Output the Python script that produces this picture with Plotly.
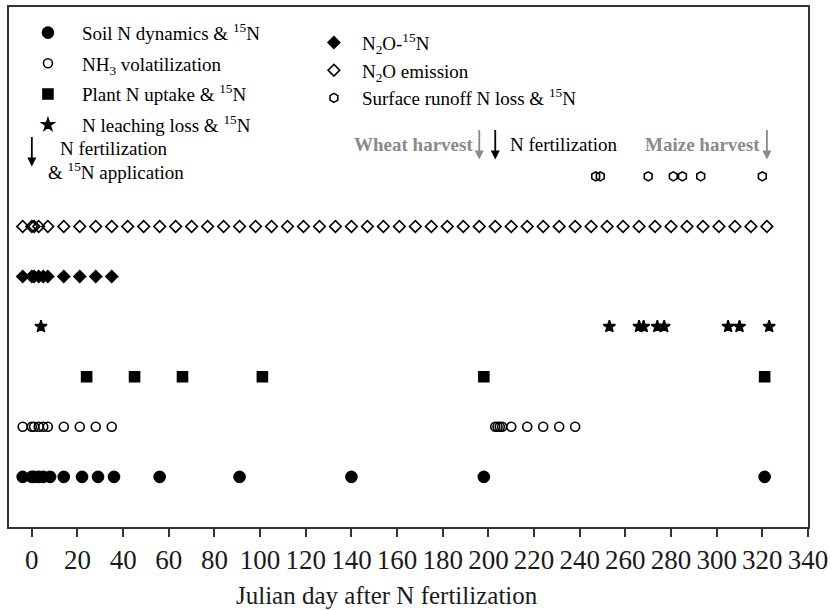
import plotly.graph_objects as go

# Sampling days (Julian day after N fertilization) for each measurement
soil_days = [-4, 0, 1, 3, 5, 8, 14, 22, 29, 36, 56, 91, 140, 198, 321]
nh3_days = [-4, 0, 1, 3, 5, 7, 14, 21, 28, 35,
            203, 204, 205, 206, 210, 217, 224, 231, 238]
plant_days = [24, 45, 66, 101, 198, 321]
leach_days = [4, 253, 266, 268, 274, 277, 305, 310, 323]
n2o15_days = [-4, 0, 1, 3, 5, 7, 14, 21, 28, 35]
n2o_days = [-4, 0, 1, 3, 7, 14, 21, 28, 35, 42, 49, 56, 63, 70, 77, 84, 91,
            98, 105, 112, 119, 126, 133, 140, 147, 154, 161, 168, 175, 182,
            189, 196, 203, 210, 217, 224, 231, 238, 245, 252, 259, 266, 273,
            280, 287, 294, 301, 308, 315, 322]
runoff_days = [247, 249, 270, 281, 285, 293, 320]

# Rows (bottom to top) and field events
rows = ["soil", "nh3", "plant", "leach", "n2o15", "n2o", "runoff"]
fert_day = 0
wheat_harvest_day = 196
second_fert_day = 203
maize_harvest_day = 322
x_ticks = [0, 20, 40, 60, 80, 100, 120, 140, 160, 180, 200, 220, 240, 260,
           280, 300, 320, 340]

FONT = "Liberation Serif, Times New Roman, serif"
GRAY = "#8a8a8a"

series = [
    # days, row, name, symbol, size, legend
    (soil_days, "soil", "Soil N dynamics &amp; <sup>15</sup>N", "circle", 11, "legend"),
    (nh3_days, "nh3", "NH<sub>3</sub> volatilization", "circle-open", 9, "legend"),
    (plant_days, "plant", "Plant N uptake &amp; <sup>15</sup>N", "square", 10, "legend"),
    (leach_days, "leach", "N leaching loss &amp; <sup>15</sup>N", "star", 9, "legend"),
    (n2o15_days, "n2o15", "N<sub>2</sub>O-<sup>15</sup>N", "diamond", 9, "legend2"),
    (n2o_days, "n2o", "N<sub>2</sub>O emission", "diamond-open", 9, "legend2"),
    (runoff_days, "runoff", "Surface runoff N loss &amp; <sup>15</sup>N", "hexagon-open", 9, "legend2"),
]

fig = go.Figure()
for days, row, name, symbol, size, leg in series:
    fig.add_trace(go.Scatter(
        x=days, y=[row] * len(days), mode="markers", name=name,
        legend=leg, legendgroup=row,
        marker=dict(symbol=symbol, size=size, color="black",
                    line=dict(color="black", width=1.6)),
    ))

annotations = []
# Arrows marking the field operations
for day, color in [(fert_day, "black"), (wheat_harvest_day, GRAY),
                   (second_fert_day, "black"), (maize_harvest_day, GRAY)]:
    tip = 0.6935 if day == fert_day else 0.7069
    annotations.append(dict(
        x=day, y=tip, xref="x", yref="paper", text="", showarrow=True,
        ax=0, ay=-31, arrowhead=2, arrowsize=1, arrowwidth=1.8,
        arrowcolor=color))

annotations += [
    dict(x=0.061, y=0.728, xref="paper", yref="paper", text="N fertilization",
         xanchor="left", yanchor="middle", showarrow=False,
         font=dict(family=FONT, size=19, color="black")),
    dict(x=0.046, y=0.684, xref="paper", yref="paper",
         text="&amp; <sup>15</sup>N application",
         xanchor="left", yanchor="middle", showarrow=False,
         font=dict(family=FONT, size=19, color="black")),
    dict(x=0.5836, y=0.7356, xref="paper", yref="paper", text="<b>Wheat harvest</b>",
         xanchor="right", yanchor="middle", showarrow=False,
         font=dict(family=FONT, size=19, color=GRAY)),
    dict(x=0.625, y=0.7356, xref="paper", yref="paper", text="N fertilization",
         xanchor="left", yanchor="middle", showarrow=False,
         font=dict(family=FONT, size=19, color="black")),
    dict(x=0.9427, y=0.7356, xref="paper", yref="paper", text="<b>Maize harvest</b>",
         xanchor="right", yanchor="middle", showarrow=False,
         font=dict(family=FONT, size=19, color=GRAY)),
    dict(x=0.4726, y=-0.1322, xref="paper", yref="paper",
         text="Julian day after N fertilization",
         xanchor="center", yanchor="middle", showarrow=False,
         font=dict(family=FONT, size=25, color="#1a1a1a")),
]

fig.update_layout(
    width=833, height=610,
    margin=dict(l=9, r=22, t=5, b=83),
    paper_bgcolor="white", plot_bgcolor="white",
    font=dict(family=FONT, size=19, color="black"),
    showlegend=True,
    legend=dict(x=0.0062, y=0.987, xanchor="left", yanchor="top",
                bgcolor="rgba(0,0,0,0)", borderwidth=0, tracegroupgap=3,
                itemwidth=58,
                font=dict(family=FONT, size=19, color="black")),
    legend2=dict(x=0.3716, y=0.968, xanchor="left", yanchor="top",
                 bgcolor="rgba(0,0,0,0)", borderwidth=0, tracegroupgap=0,
                 itemwidth=46,
                 font=dict(family=FONT, size=19, color="black")),
    annotations=annotations,
    xaxis=dict(range=[-10, 340], tickvals=x_ticks, ticks="outside",
               ticklen=8, tickwidth=1.5, tickcolor="#333",
               showline=True, linecolor="#333", linewidth=1.5, mirror=True,
               showgrid=False, zeroline=False,
               tickfont=dict(family=FONT, size=27, color="#1a1a1a")),
    yaxis=dict(type="category", categoryorder="array", categoryarray=rows,
               range=[-1, 9.38], showticklabels=False, ticks="",
               showline=True, linecolor="#333", linewidth=1.5, mirror=True,
               showgrid=False, zeroline=False),
)

fig.write_html("out.html")
